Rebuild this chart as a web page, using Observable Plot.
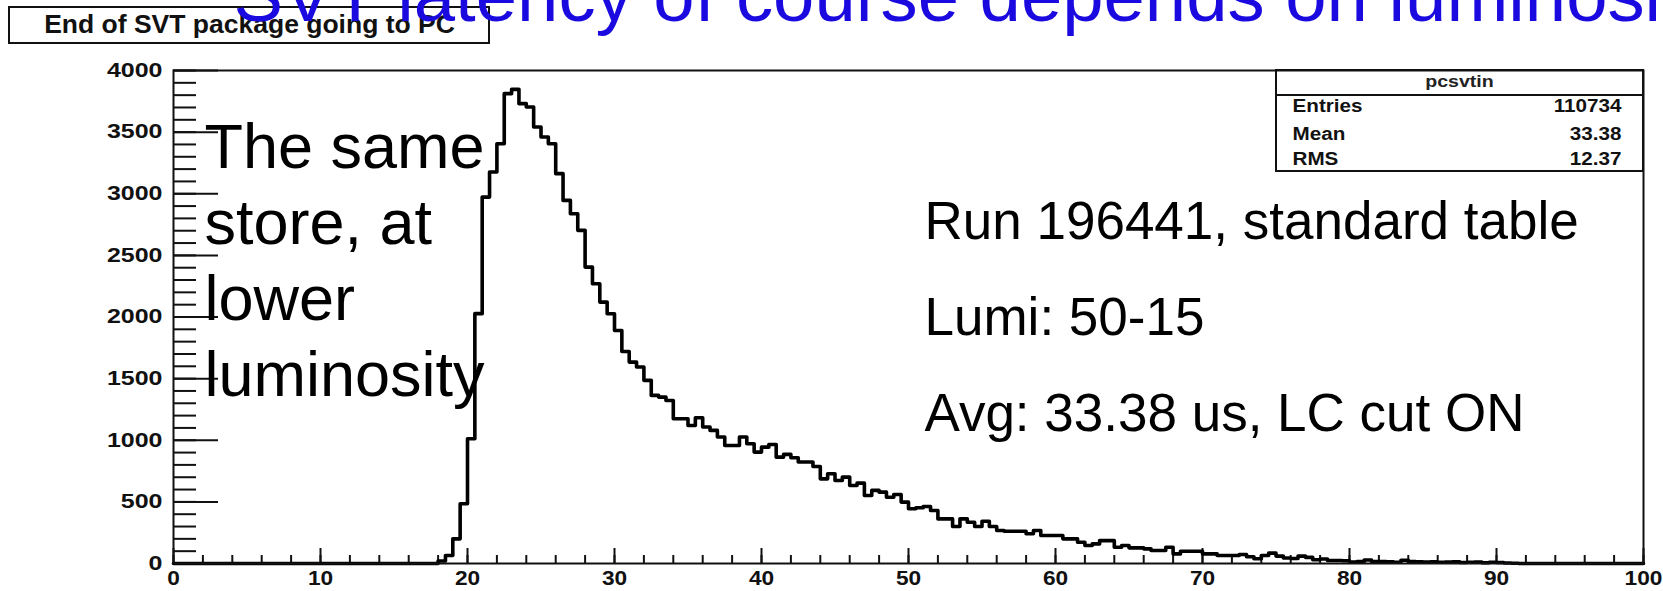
<!DOCTYPE html>
<html>
<head>
<meta charset="utf-8">
<script src="https://cdn.jsdelivr.net/npm/d3@7"></script>
<script src="https://cdn.jsdelivr.net/npm/@observablehq/plot@0.6"></script>
<style>
  html, body { margin: 0; padding: 0; background: #fff; }
  #wrap { position: relative; width: 1663px; height: 591px; overflow: hidden; }
  .box { position: absolute; box-sizing: border-box; border: 2px solid #111; background: #fff; }
  #titlebox { left: 8px; top: 6px; width: 482px; height: 38px; }
  #statsbox { left: 1275px; top: 69px; width: 369px; height: 103px; }
  #statssep { position: absolute; left: 0; right: 0; top: 23px; border-top: 2px solid #111; }
  #wrap svg { position: absolute; left: 0; top: 0; }
</style>
</head>
<body>
<div id="wrap">
  <div class="box" id="titlebox"></div>
  <div class="box" id="statsbox"><div id="statssep"></div></div>
</div>
<script>
// ---------------- data ----------------
const histTitle = "End of SVT package going to PC";
const slideTitle = "SVT latency of course depends on luminosity";
const statsName = "pcsvtin";
const statsLabels = ["Entries", "Mean", "RMS"];
const statsValues = ["110734", "33.38", "12.37"];
const noteLeft = ["The same", "store, at", "lower", "luminosity"];
const noteRight = ["Run 196441, standard table", "Lumi: 50-15", "Avg: 33.38 us, LC cut ON"];

const xDomain = [0, 100];
const yDomain = [0, 4000];
const binLow = 0;
const binWidth = 0.5;
// 200 bins of width 0.5 from 0 to 100
const counts = [
  // 0 - 17.5
  0,0,0,0,0,0,0,0,0,0, 0,0,0,0,0,0,0,0,0,0, 0,0,0,0,0,0,0,0,0,0, 0,0,0,0,0,0,
  // 18 - 29.5
  20,65,200,485,1012,2027,2973,3176,3406,3812,3847,3731,
  3704,3542,3460,3406,3163,2946,2838,2703,2405,2270,2121,2026,
  // 30 - 39.5
  1891,1720,1634,1594,1486,1364,1350,1323,1174,1174,
  1120,1183,1107,1080,1026,958,958,1026,971,904,
  // 40 - 49.5
  944,966,863,885,858,823,823,787,687,728,
  674,701,633,652,552,593,579,538,560,498,
  // 50 - 59.5
  444,452,463,430,362,362,300,362,335,300,
  343,300,268,262,262,262,241,268,227,227,
  // 60 - 71.5
  227,200,200,173,146,159,186,186,132,146,127,127,
  119,105,105,132,78,100,100,100,78,78,65,65,
  // 72 - 91
  65,73,55,38,65,84,60,45,40,60,50,30,36,24,24,22,11,15,28,16,
  16,14,10,26,15,14,12,14,10,12,14,8,10,12,6,10,8,4,2,
  // 91.5 - 99.5
  0,0,0,0,0,0,0,0,0,0,0,0,0,0,0,0,0
];

const xMajorTicks = [0, 10, 20, 30, 40, 50, 60, 70, 80, 90, 100];
const xMinorTicks = d3.range(0, 101, 2);
const yMajorTicks = [0, 500, 1000, 1500, 2000, 2500, 3000, 3500, 4000];
const yMinorTicks = d3.range(0, 4001, 100);

// ---------------- table for the library ----------------
const table = counts.map((c, i) => ({x: binLow + i * binWidth, y: c}));
table.push({x: binLow + counts.length * binWidth, y: counts[counts.length - 1]});

// ---------------- layout (pixels) ----------------
const W = 1663, H = 591;
const M = {left: 173, right: 20, top: 70, bottom: 28};
const FONT = "'Liberation Sans', Arial, Helvetica, sans-serif";
const at = (px, py) => ({frameAnchor: "top-left", dx: px - M.left, dy: py - M.top});
const statsBase = [111, 139, 164];

const svg = Plot.plot({
  width: W,
  height: H,
  marginLeft: M.left,
  marginRight: M.right,
  marginTop: M.top,
  marginBottom: M.bottom,
  x: {domain: xDomain},
  y: {domain: yDomain},
  style: {background: "transparent", color: "#111", fontFamily: FONT, overflow: "visible"},
  marks: [
    Plot.axisX({ticks: xMinorTicks, tickSize: -8, tickFormat: () => "", label: null, strokeWidth: 2}),
    Plot.axisX({ticks: xMajorTicks, tickSize: -15, tickPadding: 22, tickFormat: d => `${d}`, label: null,
      strokeWidth: 2, fontSize: 21, fontWeight: "bold", fill: "#111"}),
    Plot.axisY({ticks: yMinorTicks, tickSize: -23, tickFormat: () => "", label: null, strokeWidth: 2}),
    Plot.axisY({ticks: yMajorTicks, tickSize: -45, tickPadding: 56, tickFormat: d => `${d}`, label: null,
      strokeWidth: 2, fontSize: 19.5, fontWeight: "bold", fill: "#111"}),
    Plot.line(table, {x: "x", y: "y", curve: "step-after", stroke: "#000", strokeWidth: 3.6}),
    Plot.frame({stroke: "#111", strokeWidth: 2}),
    // histogram title (inside the box drawn in HTML)
    Plot.text([histTitle], {...at(249, 32), text: d => d, textAnchor: "middle", lineAnchor: "bottom",
      fontSize: 25, fontWeight: "bold", fill: "#111"}),
    // stats box
    Plot.text([statsName], {...at(1459, 86), text: d => d, textAnchor: "middle", lineAnchor: "bottom",
      fontSize: 17, fontWeight: "bold", fill: "#222"}),
    ...statsLabels.map((s, i) => Plot.text([s], {...at(1292, statsBase[i]), text: d => d,
      textAnchor: "start", lineAnchor: "bottom", fontSize: 17.5, fontWeight: "bold", fill: "#111"})),
    ...statsValues.map((s, i) => Plot.text([s], {...at(1621, statsBase[i]), text: d => d,
      textAnchor: "end", lineAnchor: "bottom", fontSize: 17.5, fontWeight: "bold", fill: "#111"})),
    // slide annotations
    Plot.text([noteLeft.join("\n")], {...at(204, 395), text: d => d, textAnchor: "start", lineAnchor: "bottom",
      lineHeight: 76 / 63, fontSize: 63, fill: "#000"}),
    Plot.text([noteRight.join("\n")], {...at(924, 430), text: d => d, textAnchor: "start", lineAnchor: "bottom",
      lineHeight: 96 / 53, fontSize: 53, fill: "#000"}),
    Plot.text([slideTitle], {...at(233, 20), text: d => d, textAnchor: "start", lineAnchor: "bottom",
      fontSize: 74.3, fill: "#1a0ae0"})
  ]
});

document.getElementById("wrap").appendChild(svg);

// ROOT's picture was stretched horizontally when pasted on the slide: mimic it on its texts
function stretchEl(t, k) {
  const L = t.getComputedTextLength();
  if (L > 0) {
    t.setAttribute("textLength", (L * k).toFixed(2));
    t.setAttribute("lengthAdjust", "spacingAndGlyphs");
  }
}
svg.querySelectorAll('g[aria-label="y-axis tick label"] text').forEach(t => stretchEl(t, 1.28));
svg.querySelectorAll('g[aria-label="x-axis tick label"] text').forEach(t => stretchEl(t, 1.08));
const rootTexts = new Map([[histTitle, 1.06], [statsName, 1.15]]);
statsLabels.concat(statsValues).forEach(s => rootTexts.set(s, 1.18));
svg.querySelectorAll("text").forEach(t => {
  const k = rootTexts.get(t.textContent);
  if (k && !t.querySelector("tspan")) stretchEl(t, k);
});
</script>
</body>
</html>
